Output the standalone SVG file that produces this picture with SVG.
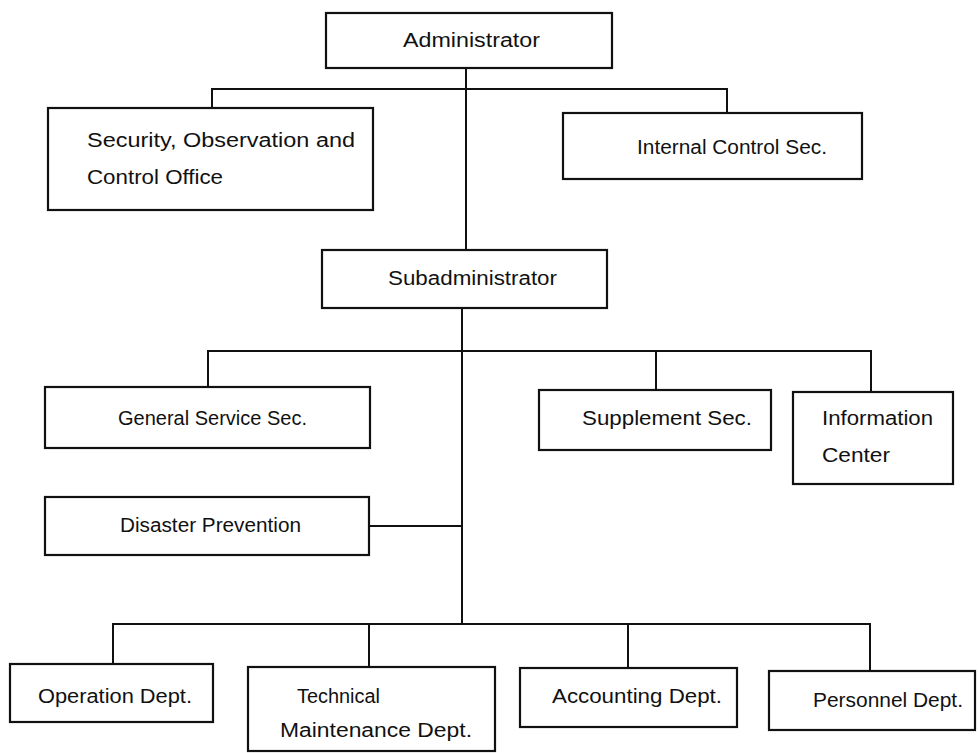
<svg xmlns="http://www.w3.org/2000/svg" width="978" height="753" viewBox="0 0 978 753">
<style>
.box{fill:#fff;stroke:#111;stroke-width:2.2}
.ln{fill:none;stroke:#111;stroke-width:2}
text{font-family:"Liberation Sans",Arial,sans-serif;font-size:20px;fill:#111}
</style>
<rect width="978" height="753" fill="#fff"/>
<g id="connectors">
<path class="ln" d="M466 68 V250"/>
<path class="ln" d="M212 108 V89 H727 V113"/>
<path class="ln" d="M462 308 V624"/>
<path class="ln" d="M208 387 V351 H871 V392 M656 351 V390"/>
<path class="ln" d="M369 526 H462"/>
<path class="ln" d="M113 664 V624 H870 V671 M369 624 V667 M628 624 V668"/>
</g>
<g id="administrator"><rect class="box" x="326" y="13" width="286" height="55"/><text x="403" y="47" textLength="137" lengthAdjust="spacingAndGlyphs">Administrator</text></g>
<g id="security"><rect class="box" x="48" y="108" width="325" height="102"/><text x="87" y="147" textLength="268" lengthAdjust="spacingAndGlyphs">Security, Observation and</text><text x="87" y="184" textLength="136" lengthAdjust="spacingAndGlyphs">Control Office</text></g>
<g id="internal"><rect class="box" x="563" y="113" width="299" height="66"/><text x="637" y="154" textLength="190" lengthAdjust="spacingAndGlyphs">Internal Control Sec.</text></g>
<g id="subadministrator"><rect class="box" x="322" y="250" width="285" height="58"/><text x="388" y="285" textLength="169" lengthAdjust="spacingAndGlyphs">Subadministrator</text></g>
<g id="general"><rect class="box" x="45" y="387" width="325" height="61"/><text x="118" y="425" textLength="189" lengthAdjust="spacingAndGlyphs">General Service Sec.</text></g>
<g id="supplement"><rect class="box" x="539" y="390" width="232" height="60"/><text x="582" y="425" textLength="170" lengthAdjust="spacingAndGlyphs">Supplement Sec.</text></g>
<g id="information"><rect class="box" x="793" y="392" width="160" height="92"/><text x="822" y="425" textLength="111" lengthAdjust="spacingAndGlyphs">Information</text><text x="822" y="462" textLength="68" lengthAdjust="spacingAndGlyphs">Center</text></g>
<g id="disaster"><rect class="box" x="45" y="497" width="324" height="58"/><text x="120" y="532" textLength="181" lengthAdjust="spacingAndGlyphs">Disaster Prevention</text></g>
<g id="operation"><rect class="box" x="10" y="664" width="203" height="58"/><text x="38" y="703" textLength="154" lengthAdjust="spacingAndGlyphs">Operation Dept.</text></g>
<g id="technical"><rect class="box" x="248" y="667" width="247" height="84"/><text x="297" y="703" textLength="83" lengthAdjust="spacingAndGlyphs">Technical</text><text x="280" y="737" textLength="192" lengthAdjust="spacingAndGlyphs">Maintenance Dept.</text></g>
<g id="accounting"><rect class="box" x="520" y="668" width="217" height="59"/><text x="552" y="703" textLength="170" lengthAdjust="spacingAndGlyphs">Accounting Dept.</text></g>
<g id="personnel"><rect class="box" x="769" y="671" width="206" height="59"/><text x="813" y="707" textLength="150" lengthAdjust="spacingAndGlyphs">Personnel Dept.</text></g>
</svg>
